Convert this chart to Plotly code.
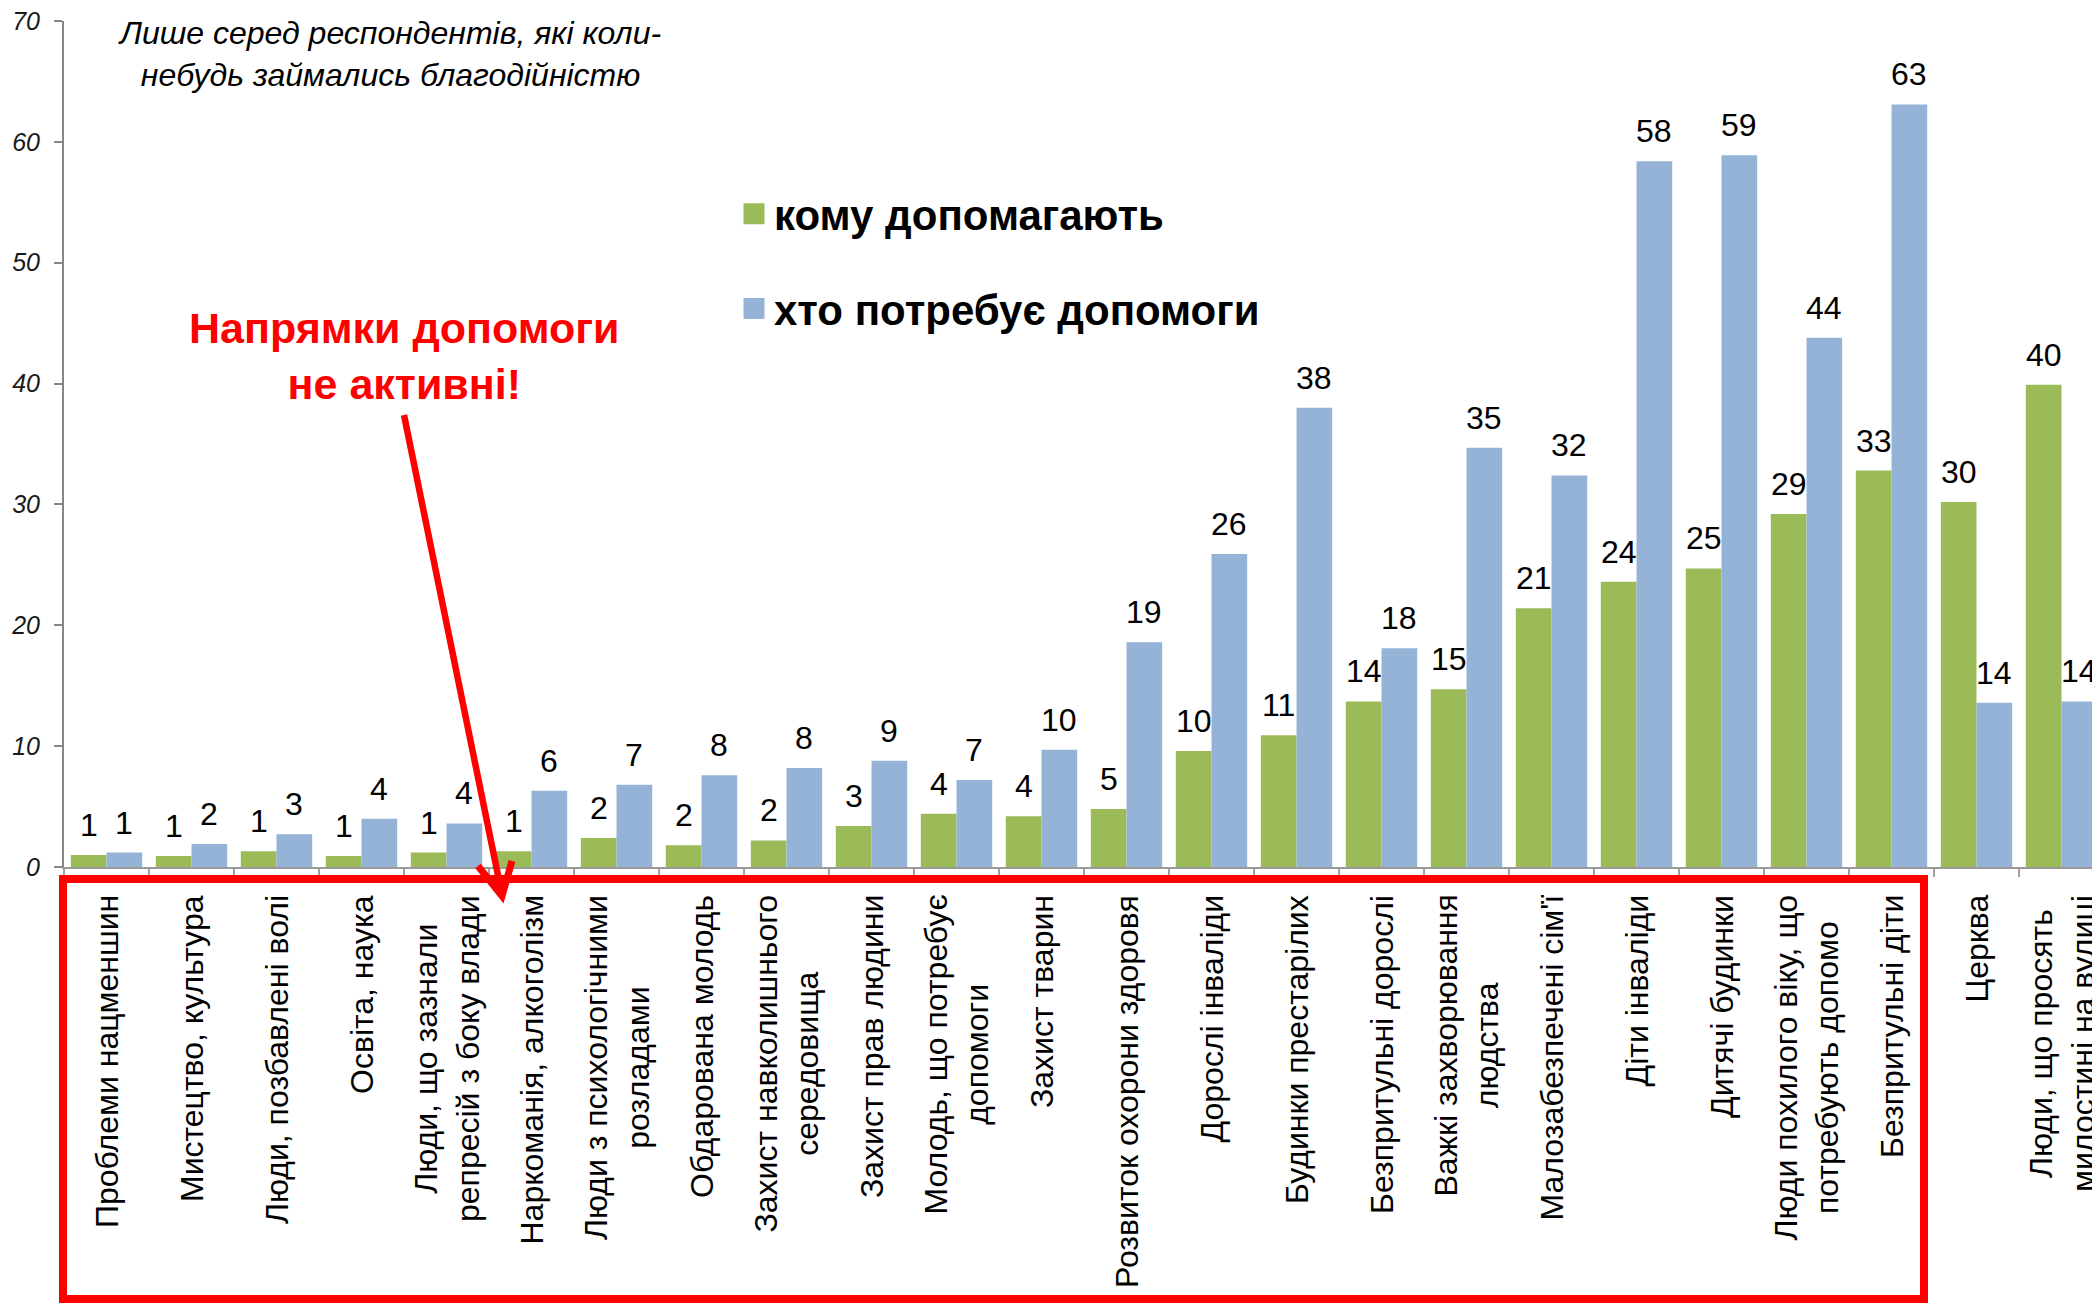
import plotly.graph_objects as go

categories = [
    "Проблеми нацменшин",
    "Мистецтво, культура",
    "Люди, позбавлені волі",
    "Освіта, наука",
    "Люди, що зазнали<br>репресій з боку влади",
    "Наркоманія, алкоголізм",
    "Люди з психологічними<br>розладами",
    "Обдарована молодь",
    "Захист навколишнього<br>середовища",
    "Захист прав людини",
    "Молодь, що потребує<br>допомоги",
    "Захист тварин",
    "Розвиток охорони здоровя",
    "Дорослі інваліди",
    "Будинки престарілих",
    "Безпритульні дорослі",
    "Важкі захворювання<br>людства",
    "Малозабезпечені сім'ї",
    "Діти інваліди",
    "Дитячі будинки",
    "Люди похилого віку, що<br>потребують допомо",
    "Безпритульні діти",
    "Церква",
    "Люди, що просять<br>милостині на вулиці",
]

helped = [1.0, 0.9, 1.3, 0.9, 1.2, 1.3, 2.4, 1.8, 2.2, 3.4, 4.4, 4.2, 4.8, 9.6, 10.9,
          13.7, 14.7, 21.4, 23.6, 24.7, 29.2, 32.8, 30.2, 39.9]
need_help = [1.2, 1.9, 2.7, 4.0, 3.6, 6.3, 6.8, 7.6, 8.2, 8.8, 7.2, 9.7, 18.6, 25.9, 38.0,
             18.1, 34.7, 32.4, 58.4, 58.9, 43.8, 63.1, 13.6, 13.7]

series_names = ["кому допомагають", "хто потребує допомоги"]
y_ticks = [0, 10, 20, 30, 40, 50, 60, 70]

note_text = "Лише серед респондентів, які коли-<br>небудь займались благодійністю"
alert_text = "Напрямки допомоги<br>не активні!"

GREEN = "#9BBB59"
BLUE = "#95B3D7"
RED = "#FF0000"
FONT = "Liberation Sans, Arial, sans-serif"

# page has an 8px body margin; figure geometry is expressed in figure pixels
OFF = 8
W, H = 2100, 1304
ML, MT = 56, 13
PW, PH = 2040, 846
MR = W - ML - PW
MB = H - MT - PH
BARGAP = 0.16
BAR_W = PW / len(categories) * (1 - BARGAP) / 2


def px(x):  # page x -> paper
    return (x - OFF - ML) / PW


def py(y):  # page y -> paper
    return (MT + PH + OFF - y) / PH


fig = go.Figure()
for name, vals, col in [(series_names[0], helped, GREEN), (series_names[1], need_help, BLUE)]:
    fig.add_trace(go.Bar(
        x=categories, y=vals, name=name, legendgroup=name, showlegend=False,
        marker=dict(color=col, line=dict(width=0)),
        hoverinfo="x+y",
    ))
    # legend entry with a larger square swatch
    fig.add_trace(go.Scatter(
        x=[None], y=[None], name=name, legendgroup=name, mode="markers",
        marker=dict(symbol="square", size=16, color=col, line=dict(color=col, width=5)),
        hoverinfo="skip",
    ))

annotations = []
# value labels above bars
for vals, sign in [(helped, -1), (need_help, 1)]:
    for c, v in zip(categories, vals):
        annotations.append(dict(
            x=c, xref="x", y=v, yref="y", xanchor="center", yanchor="bottom",
            xshift=sign * BAR_W / 2, yshift=10,
            text=f"{v:.0f}", showarrow=False,
            font=dict(family=FONT, size=32, color="#000000"),
        ))

# category labels (rotated, centred lines)
for c in categories:
    annotations.append(dict(
        x=c, xref="x", y=py(893), yref="paper", yanchor="top", xanchor="center",
        text=c, textangle=-90, align="center", showarrow=False,
        font=dict(family=FONT, size=32, color="#000000"),
    ))

annotations.append(dict(
    x=px(389), y=py(13), xref="paper", yref="paper", xanchor="center", yanchor="top",
    text=note_text, showarrow=False, align="center",
    font=dict(family=FONT, size=32, color="#000000", style="italic"),
))
annotations.append(dict(
    x=px(404), y=py(356), xref="paper", yref="paper", xanchor="center", yanchor="middle",
    text=alert_text, showarrow=False, align="center",
    font=dict(family=FONT, size=43, color=RED, weight="bold"),
))

shapes = [
    dict(type="rect", xref="paper", yref="paper",
         x0=px(63), x1=px(1924), y0=py(1299), y1=py(879),
         line=dict(color=RED, width=8), fillcolor="rgba(0,0,0,0)"),
    dict(type="path", xref="paper", yref="paper",
         path=f"M {px(404)},{py(415)} L {px(501)},{py(890)}",
         line=dict(color=RED, width=6.5)),
    dict(type="path", xref="paper", yref="paper",
         path=f"M {px(478)},{py(866)} L {px(502)},{py(896)} L {px(512)},{py(861)}",
         line=dict(color=RED, width=7)),
]

fig.update_layout(
    width=W, height=H,
    margin=dict(l=ML, r=MR, t=MT, b=MB, autoexpand=False),
    paper_bgcolor="white", plot_bgcolor="white",
    barmode="group", bargap=BARGAP, bargroupgap=0.0,
    font=dict(family=FONT, color="#000000"),
    showlegend=True,
    legend=dict(
        x=px(734), y=py(180), xanchor="left", yanchor="top",
        orientation="v", tracegroupgap=37,
        font=dict(family=FONT, size=42, color="#000000", weight="bold"),
        bgcolor="rgba(0,0,0,0)",
    ),
    xaxis=dict(
        type="category", showticklabels=False,
        ticks="outside", tickson="boundaries", ticklen=8, tickwidth=1.5,
        tickcolor="#A0A0A0",
        showline=True, linecolor="#9A9A9A", linewidth=2,
        showgrid=False, zeroline=False,
    ),
    yaxis=dict(
        range=[0, 70], tickvals=y_ticks, ticks="outside", ticklen=8, tickwidth=1.5,
        tickcolor="#868686", showline=True, linecolor="#868686", linewidth=2,
        showgrid=False, zeroline=False, ticklabelstandoff=9,
        ticklabeloverflow="allow",
        tickfont=dict(family=FONT, size=25, color="#1A1A1A", style="italic"),
    ),
    annotations=annotations,
    shapes=shapes,
)

fig.write_html("out.html")
